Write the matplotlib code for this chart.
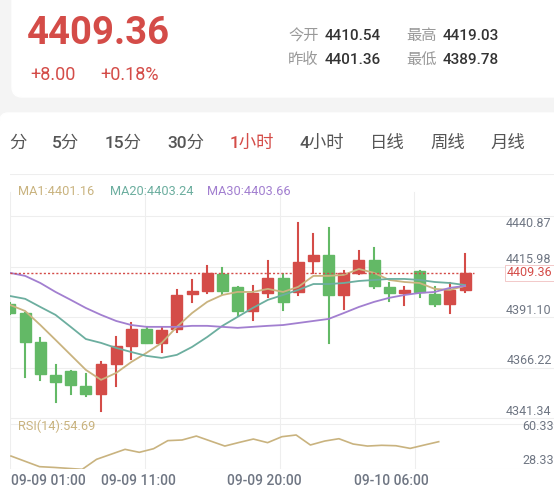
import matplotlib
matplotlib.use("Agg")
import matplotlib.pyplot as plt
from matplotlib.patches import Rectangle, FancyBboxPatch

plt.rcParams['font.family'] = ['Roboto', 'Noto Sans CJK SC', 'DejaVu Sans']

opens  = [4394.1,4389.6,4375.4,4359.1,4361.1,4353.7,4349.8,4364.5,4373.4,4381.8,4374.9,4381.8,4399.0,4400.5,4408.9,
          4402.5,4390.6,4399.5,4406.9,4400.0,4415.3,4418.2,4398.5,4409.4,4415.8,4402.5,4399.5,4410.3,4399.0,4394.1,4401.0]
highs  = [4394.6,4389.6,4377.3,4364.0,4361.1,4359.6,4365.5,4377.8,4384.7,4382.8,4382.3,4401.0,4405.9,4412.8,4411.8,
          4402.5,4403.0,4415.3,4408.9,4434.0,4428.6,4431.5,4410.3,4420.2,4421.7,4404.4,4402.5,4410.3,4402.5,4404.4,4418.7]
lows   = [4389.2,4358.1,4356.7,4345.8,4349.8,4348.8,4341.4,4353.7,4367.0,4374.9,4370.4,4380.3,4395.1,4399.5,4399.0,
          4388.7,4386.2,4397.5,4391.1,4398.5,4409.4,4374.9,4391.6,4408.9,4402.0,4395.6,4393.6,4397.5,4393.1,4389.6,4400.0]
closes = [4389.6,4375.4,4359.6,4355.7,4354.2,4349.8,4364.5,4373.4,4381.8,4374.9,4381.3,4398.5,4400.5,4409.4,4400.5,
          4390.6,4399.5,4406.9,4395.1,4414.8,4418.2,4398.5,4409.4,4415.8,4403.0,4399.5,4401.0,4400.0,4394.1,4401.0,4409.36]
ma1  = [4393.6,4390.6,4383.7,4376.4,4369.0,4361.6,4356.7,4360.1,4365.5,4370.0,4374.9,4382.8,4389.6,4395.1,4398.5,
        4400.0,4400.0,4401.5,4400.0,4402.5,4407.9,4407.9,4408.4,4411.3,4409.4,4405.9,4404.9,4404.4,4401.5,4401.0,4403.0]
ma20 = [4398.0,4396.6,4392.6,4388.7,4382.8,4376.8,4374.9,4372.4,4370.4,4368.5,4367.5,4369.0,4372.9,4377.8,4383.3,
        4387.7,4392.1,4396.1,4398.5,4401.0,4403.9,4403.9,4404.4,4405.4,4405.9,4406.4,4406.4,4405.9,4404.9,4404.4,4403.4]
ma30 = [4409.4,4407.9,4404.4,4400.0,4396.1,4392.1,4388.7,4385.7,4383.7,4382.8,4382.8,4382.8,4383.3,4383.3,4382.8,
        4382.3,4382.8,4383.3,4383.7,4384.7,4385.7,4386.7,4389.6,4392.6,4395.1,4397.1,4398.5,4399.5,4400.0,4402.0,4403.0]
rsi = [32.7,27.7,22.7,22.0,21.1,20.2,29.6,34.3,39.0,36.2,39.6,47.2,47.8,51.5,46.8,42.1,45.5,48.7,45.3,50.9,
       52.5,43.1,46.8,49.0,44.0,42.1,42.8,42.4,39.9,43.1,46.2]
price_ticks = [4440.87, 4415.98, 4391.10, 4366.22, 4341.34]
rsi_ticks = [60.33, 28.33]
date_labels = ["09-09 01:00", "09-09 11:00", "09-09 20:00", "09-10 06:00"]
tabs = ["分", "5分", "15分", "30分", "1小时", "4小时", "日线", "周线", "月线"]
last = 4409.36

W, H = 554, 490
fig = plt.figure(figsize=(W/100, H/100), dpi=100)
fig.patch.set_facecolor('#f4f4f4')
RED, GREEN = '#d44c48', '#63b966'
TAN, TEAL, PURP = '#c9b37f', '#6cae9f', '#a27fd0'
GRAY = '#6f7683'

def fx(p): return p / W
def fy(p): return 1 - p / H

bg = fig.add_axes([0, 0, 1, 1], zorder=-10)
bg.set_xlim(0, W); bg.set_ylim(H, 0); bg.axis('off')
bg.add_patch(FancyBboxPatch((12, -20), 580, 117, boxstyle='round,pad=0,rounding_size=10', color='white'))
bg.add_patch(FancyBboxPatch((0, 113), W + 20, H, boxstyle='round,pad=0,rounding_size=8', color='white'))

fig.text(fx(27), fy(33), f"{last:.2f}", color=RED, fontsize=27.5, fontweight='bold', va='center')
fig.text(fx(30), fy(75), "+8.00", color=RED, fontsize=13, va='center')
fig.text(fx(100), fy(75), "+0.18%", color=RED, fontsize=13, va='center')
for lab, val, x, y in [("今开", "4410.54", 288, 36), ("最高", "4419.03", 406, 36),
                       ("昨收", "4401.36", 288, 60), ("最低", "4389.78", 406, 60)]:
    fig.text(fx(x), fy(y), lab, color='#999999', fontsize=11, va='center')
    fig.text(fx(x + 37), fy(y), val, color='#333333', fontsize=11, fontweight='medium', va='center')
tab_x = [9, 52, 105, 167, 230, 299, 370, 430, 490]
for t, x in zip(tabs, tab_x):
    fig.text(fx(x), fy(143), t, color=RED if t == "1小时" else '#555555', fontsize=12.5,
             fontweight='medium', va='center')

s = 15.17
ax = fig.add_axes([fx(10), fy(418), fx(544), (418 - 174) / H])
ax.set_xlim(0, 544 / s)
ax.set_ylim(4337.9, 4458.1)
ax.set_facecolor('none')
for sp in ax.spines.values():
    sp.set_visible(False)
ax.set_xticks([])
ax.set_yticks([])
for g in [4458.0, 4437.4, 4412.3, 4387.7, 4362.5, 4337.9]:
    ax.axhline(g, color='#eeeeee', lw=0.8, zorder=0)
for g in [0, 8.9, 17.8, 26.6]:
    ax.plot([g, g], [4337.9, 4449], color='#eeeeee', lw=0.8, zorder=0)

n = len(opens)
xs = list(range(n))
for i in xs:
    o, h, l, c = opens[i], highs[i], lows[i], closes[i]
    col = RED if c >= o else GREEN
    ax.plot([i, i], [l, h], color=col, lw=1.5, zorder=2)
    ax.add_patch(Rectangle((i - 0.36, min(o, c)), 0.72, max(abs(c - o), 0.6), color=col, zorder=3))
ax.plot(xs, ma1, color=TAN, lw=1.3, zorder=4)
ax.plot(xs, ma20, color=TEAL, lw=1.3, zorder=4)
ax.plot(xs, ma30, color=PURP, lw=1.3, zorder=4)
ax.plot([0, 30.6], [last, last], color=RED, lw=1, ls=(0, (1.5, 1.5)), zorder=5)
for v in price_ticks[1:]:
    ax.text(35.7, v, f"{v:.2f}", color=GRAY, fontsize=9, ha='right', va='center')
ax.text(35.7, 4433.5, f"{price_ticks[0]:.2f}", color=GRAY, fontsize=9, ha='right', va='center')
ax.text(35.75, last, f"{last:.2f}", color=RED, fontsize=9, ha='right', va='center',
        bbox=dict(boxstyle='square,pad=0.15', fc='white', ec='#f0c0c0', lw=0.6), zorder=6)
ax.text(0.5, 4449.5, "MA1:4401.16", color=TAN, fontsize=9.2, va='center')
ax.text(6.6, 4449.5, "MA20:4403.24", color=TEAL, fontsize=9.2, va='center')
ax.text(13.0, 4449.5, "MA30:4403.66", color=PURP, fontsize=9.2, va='center')

rs = 14.23
ax2 = fig.add_axes([fx(10), fy(469), fx(544), (469 - 418) / H])
ax2.set_xlim(-1 / rs, 543 / rs - 1 / rs)
ax2.set_ylim(20.5, 68.5)
ax2.set_facecolor('none')
for sp in ax2.spines.values():
    sp.set_visible(False)
ax2.set_xticks([])
ax2.set_yticks([])
for g in [68.5, 62.8, 20.5]:
    ax2.axhline(g, color='#eeeeee', lw=0.8, zorder=0)
for g in [-1 / rs, 134 / rs, 269 / rs, 403 / rs]:
    ax2.axvline(g, color='#eeeeee', lw=0.8, zorder=0)
ax2.plot(range(len(rsi)), rsi, color=TAN, lw=1.2)
ax2.text(0.5, 60.33, "RSI(14):54.69", color=TAN, fontsize=9.2, va='center')
for v in rsi_ticks:
    ax2.text(543 / rs - 1.35 / rs, v, f"{v:.2f}", color=GRAY, fontsize=9, ha='right', va='center')

for lab, x, ha in zip(date_labels, [11, 138, 264, 391], ['left', 'center', 'center', 'center']):
    fig.text(fx(x), fy(481), lab, color=GRAY, fontsize=10, fontweight='medium', ha=ha, va='center')

fig.savefig("out.png", dpi=100, facecolor=fig.get_facecolor())
